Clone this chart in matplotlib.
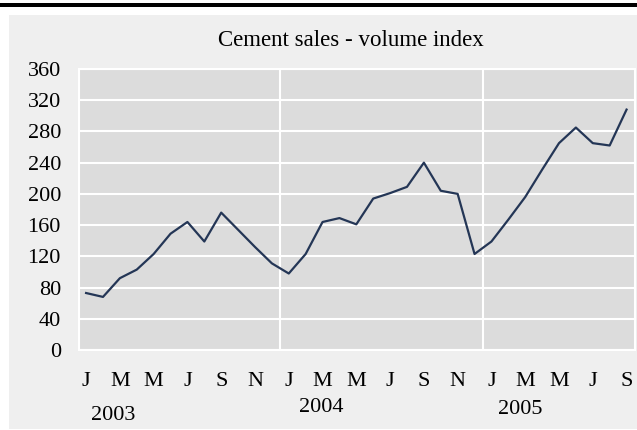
import matplotlib.pyplot as plt
from matplotlib.patches import Rectangle
from matplotlib.transforms import blended_transform_factory

plt.rcParams['font.family'] = ['Liberation Serif', 'DejaVu Serif']

# monthly volume index, Jan 2003 - Sep 2005
values = [73, 68, 92, 103, 123, 149, 164, 139, 176, 154, 132, 111,
          98, 123, 164, 169, 161, 194, 201, 209, 240, 204, 200, 123,
          139, 167, 196, 231, 265, 285, 265, 262, 308]
month_labels = ['J', 'M', 'M', 'J', 'S', 'N'] * 2 + ['J', 'M', 'M', 'J', 'S']
years = ['2003', '2004', '2005']
yticks = [0, 40, 80, 120, 160, 200, 240, 280, 320, 360]

fig = plt.figure(figsize=(6.37, 4.30), dpi=100)
fig.patch.set_facecolor('white')

# grey panel and top black rule
fig.add_artist(Rectangle((9 / 637, 1 - 429 / 430), 628 / 637, 414 / 430,
                         transform=fig.transFigure, facecolor='#efefef',
                         edgecolor='none', zorder=0))
fig.add_artist(Rectangle((0, 1 - 6.5 / 430), 1, 3.5 / 430,
                         transform=fig.transFigure, facecolor='black',
                         edgecolor='none', zorder=0))

ax = fig.add_axes([79 / 637, 1 - 350 / 430, 556 / 637, 281 / 430])
ax.set_facecolor('#dcdcdc')
x = list(range(len(values)))
ax.plot(x, values, color='#243656', lw=1.6, zorder=3)

ax.set_ylim(0, 360)
ax.set_xlim(-0.42, 32.5)
ax.set_yticks(yticks)
ax.set_xticks(x[::2])
ax.set_xticklabels(month_labels)
ax.tick_params(length=0, labelsize=16, colors='black')
ax.tick_params(axis='y', pad=13)
ax.tick_params(axis='x', pad=16)
ax.grid(axis='y', color='white', lw=1.5)
for sep in [11.5, 23.5]:
    ax.axvline(sep, color='white', lw=1.5, zorder=2)
for s in ax.spines.values():
    s.set_color('white')
    s.set_linewidth(1.5)

trans = blended_transform_factory(ax.transData, fig.transFigure)
year_pos = [(1.6, 416), (13.9, 407), (25.7, 410)]
for yr, (xp, yp) in zip(years, year_pos):
    ax.text(xp, 1 - yp / 430, yr, transform=trans, ha='center', va='center',
            fontsize=16)

fig.text(351 / 637, 1 - 40 / 430, 'Cement sales - volume index',
         ha='center', va='center', fontsize=16.5)

fig.savefig('out.png', dpi=100, facecolor=fig.get_facecolor())
